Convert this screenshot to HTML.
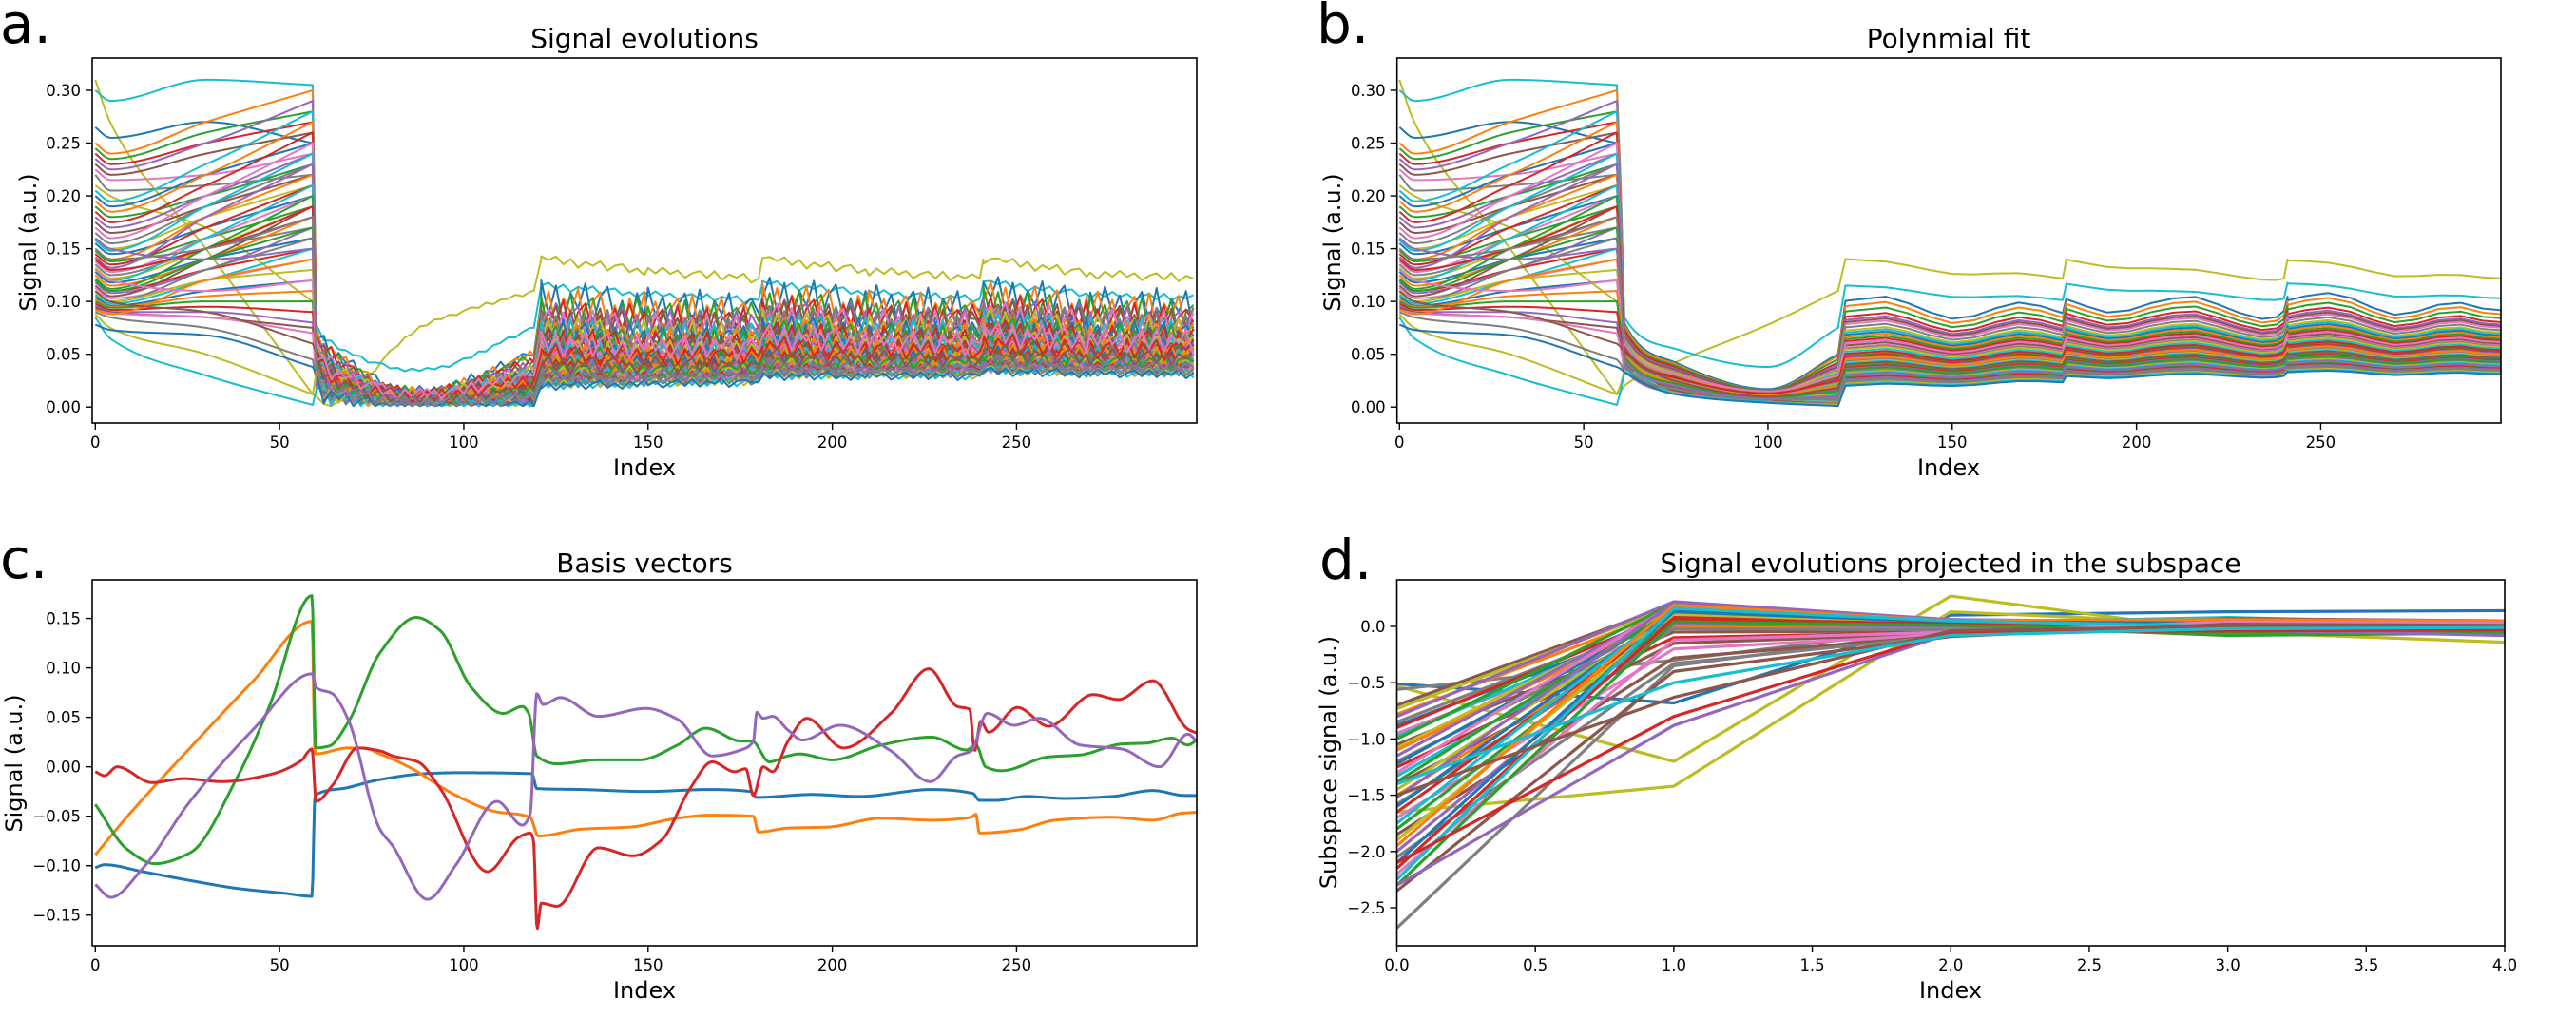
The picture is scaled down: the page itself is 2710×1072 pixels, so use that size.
<!DOCTYPE html>
<html><head><meta charset="utf-8"><style>
html,body{margin:0;padding:0;background:#fff;}
svg{display:block;font-family:"DejaVu Sans","Liberation Sans",sans-serif;}
</style></head><body>
<svg id="fig" width="2710" height="1072" viewBox="0 0 2710 1072" xmlns="http://www.w3.org/2000/svg">
<rect width="2710" height="1072" fill="#fff"/>
<text x="0" y="45" font-size="58">a.</text>
<text x="1385" y="45" font-size="58">b.</text>
<text x="0" y="608" font-size="58">c.</text>
<text x="1388" y="609" font-size="58">d.</text>
<text x="678" y="50" font-size="28" text-anchor="middle">Signal evolutions</text>
<text x="2050" y="50" font-size="28" text-anchor="middle">Polynmial fit</text>
<text x="678" y="602" font-size="28" text-anchor="middle">Basis vectors</text>
<text x="2052" y="602" font-size="28" text-anchor="middle">Signal evolutions projected in the subspace</text>
<text x="678" y="500" font-size="24" text-anchor="middle">Index</text>
<text x="2050" y="500" font-size="24" text-anchor="middle">Index</text>
<text x="678" y="1050" font-size="24" text-anchor="middle">Index</text>
<text x="2052" y="1050" font-size="24" text-anchor="middle">Index</text>
<text transform="translate(38,255) rotate(-90)" font-size="24" text-anchor="middle">Signal (a.u.)</text>
<text transform="translate(1410,255) rotate(-90)" font-size="24" text-anchor="middle">Signal (a.u.)</text>
<text transform="translate(23,803) rotate(-90)" font-size="24" text-anchor="middle">Signal (a.u.)</text>
<text transform="translate(1406,802) rotate(-90)" font-size="24" text-anchor="middle">Subspace signal (a.u.)</text>
</svg>
<script>
const tab=['#1f77b4','#ff7f0e','#2ca02c','#d62728','#9467bd','#8c564b','#e377c2','#7f7f7f','#bcbd22','#17becf'];
// ---- panel a/b data (per-curve keypoint values) ----
const start=[0.31,0.30,0.265,0.25,0.245,0.24,0.235,0.23,0.225,0.22,0.21,0.205,0.20,0.195,0.19,0.185,0.18,0.175,0.17,0.165,0.16,0.158,0.155,0.15,0.148,0.145,0.142,0.14,0.138,0.135,0.132,0.13,0.128,0.125,0.122,0.12,0.118,0.115,0.113,0.11,0.108,0.106,0.104,0.102,0.10,0.098,0.096,0.094,0.092,0.09,0.088,0.085,0.078,0.092,0.12,0.14,0.16,0.11,0.13,0.15];
const dip=[0.27,0.29,0.255,0.24,0.235,0.23,0.225,0.22,0.215,0.205,0.20,0.195,0.19,0.185,0.18,0.175,0.17,0.165,0.16,0.155,0.15,0.148,0.145,0.14,0.138,0.135,0.132,0.13,0.128,0.125,0.122,0.12,0.118,0.115,0.112,0.11,0.108,0.105,0.103,0.10,0.10,0.098,0.096,0.095,0.094,0.092,0.09,0.09,0.089,0.085,0.075,0.065,0.073,0.088,0.11,0.13,0.15,0.10,0.12,0.14];
const mid=[0.15,0.31,0.27,0.27,0.26,0.25,0.25,0.24,0.22,0.21,0.17,0.23,0.22,0.22,0.20,0.21,0.20,0.19,0.20,0.19,0.18,0.19,0.17,0.18,0.16,0.17,0.18,0.15,0.16,0.15,0.15,0.16,0.14,0.14,0.15,0.13,0.13,0.14,0.12,0.13,0.12,0.12,0.11,0.105,0.10,0.095,0.09,0.085,0.085,0.075,0.05,0.03,0.068,0.12,0.14,0.15,0.14,0.09,0.11,0.15];
const end59=[0.012,0.305,0.25,0.30,0.28,0.27,0.29,0.26,0.24,0.22,0.10,0.28,0.25,0.27,0.23,0.26,0.24,0.22,0.25,0.23,0.21,0.24,0.20,0.22,0.19,0.21,0.23,0.18,0.20,0.17,0.19,0.21,0.16,0.18,0.20,0.15,0.17,0.19,0.14,0.16,0.13,0.15,0.12,0.11,0.10,0.09,0.08,0.075,0.07,0.045,0.012,0.002,0.038,0.14,0.17,0.19,0.15,0.06,0.12,0.18];
const s2a=[0.0,0.065,0.06,0.058,0.055,0.053,0.05,0.048,0.046,0.045,0.043,0.042,0.04,0.039,0.038,0.037,0.036,0.035,0.034,0.033,0.032,0.031,0.03,0.029,0.028,0.027,0.026,0.025,0.025,0.024,0.024,0.023,0.023,0.022,0.022,0.021,0.021,0.02,0.02,0.019,0.019,0.018,0.018,0.017,0.017,0.016,0.016,0.015,0.015,0.014,0.014,0.013,0.013,0.03,0.028,0.035,0.025,0.032,0.04,0.02];
const mid2=[0.075,0.035,0.014,0.013,0.013,0.012,0.012,0.012,0.011,0.011,0.011,0.010,0.010,0.010,0.009,0.009,0.009,0.009,0.008,0.008,0.008,0.008,0.007,0.007,0.007,0.007,0.006,0.006,0.006,0.006,0.006,0.005,0.005,0.005,0.005,0.005,0.004,0.004,0.004,0.004,0.004,0.003,0.003,0.003,0.003,0.003,0.002,0.002,0.002,0.002,0.002,0.002,0.001,0.008,0.006,0.01,0.005,0.007,0.012,0.004];
const s2e=[0.11,0.075,0.05,0.048,0.045,0.042,0.04,0.038,0.036,0.035,0.034,0.032,0.03,0.029,0.028,0.027,0.026,0.025,0.024,0.023,0.022,0.021,0.02,0.019,0.018,0.017,0.016,0.015,0.014,0.013,0.012,0.011,0.01,0.009,0.008,0.008,0.007,0.007,0.006,0.006,0.005,0.005,0.004,0.004,0.003,0.003,0.003,0.002,0.002,0.002,0.002,0.001,0.001,0.02,0.015,0.025,0.01,0.018,0.03,0.008];
const lvl=[0.14,0.115,0.10,0.095,0.09,0.085,0.082,0.08,0.078,0.075,0.072,0.07,0.068,0.066,0.064,0.062,0.06,0.058,0.056,0.055,0.054,0.052,0.05,0.049,0.048,0.047,0.046,0.045,0.044,0.043,0.042,0.041,0.04,0.039,0.038,0.037,0.036,0.035,0.034,0.033,0.032,0.031,0.03,0.029,0.028,0.027,0.026,0.025,0.024,0.023,0.022,0.021,0.02,0.045,0.035,0.05,0.03,0.04,0.06,0.025];
const profIdx=[121,150,179,180,181,210,239,240,241,270,299];
const profMul=[1.0,0.92,0.87,0.87,1.0,0.92,0.87,0.87,1.0,0.9,0.87];
const profAdd=[0,0.004,0.007,0.007,0.011,0.013,0.014,0.014,0.016,0.016,0.016];
const ripple=[0,1,-0.6,0.8,-1,0.5,-0.2,1,-0.9,0.4,0.9,-0.7,0.3,-1,0.7,-0.4,1,-0.3,0.6,-0.9,0.2,0.8,-0.6,1,-0.8,0.5,-0.1,0.9,-1,0.3,0.7];
const waveB=[0,0.3,0.6,0.2,-0.4,-0.8,-0.5,0.2,0.7,0.5,0,-0.5,-0.9,-0.6,0.1,0.6,0.8,0.3,-0.3,-0.7,-0.4,0.2,0.6,0.4,-0.2,-0.6,-0.3,0.3,0.5,0.1,0];
// ---- panel c data: basis vectors [index, value] ----
const basisBlue=[[0,-0.102],[2.5,-0.099],[12.8,-0.106],[25.7,-0.115],[38.6,-0.123],[51.5,-0.128],[58.8,-0.131],[59.6,-0.029],[68.6,-0.021],[77.2,-0.013],[89.3,-0.007],[97.9,-0.006],[118.5,-0.007],[119.8,-0.022],[132.2,-0.023],[149.4,-0.025],[166.6,-0.023],[177.8,-0.025],[179.5,-0.031],[194.4,-0.028],[207.3,-0.030],[227,-0.023],[238.2,-0.027],[239.9,-0.034],[244.2,-0.034],[252.7,-0.030],[263,-0.032],[275.9,-0.030],[287,-0.024],[295.6,-0.029],[298.9,-0.029]];
const basisOrange=[[0,-0.089],[8.5,-0.051],[25.7,0.019],[42.9,0.087],[58.8,0.147],[59.6,0.013],[68.6,0.019],[72.9,0.019],[77.2,0.013],[85,0],[97.9,-0.029],[108.2,-0.045],[118,-0.051],[120.2,-0.070],[132.2,-0.063],[145.1,-0.061],[158,-0.052],[166.6,-0.049],[178.6,-0.050],[179.9,-0.066],[188,-0.062],[198.7,-0.061],[213.3,-0.052],[227,-0.054],[237.7,-0.051],[239,-0.048],[239.9,-0.067],[250.2,-0.064],[260.5,-0.054],[275.9,-0.051],[287,-0.054],[294.8,-0.047],[298.9,-0.046]];
const basisGreen=[[0,-0.038],[8.5,-0.083],[16.2,-0.098],[25.7,-0.087],[38.6,-0.010],[47.2,0.061],[58.8,0.173],[59.8,0.019],[63.5,0.021],[68.6,0.045],[77.2,0.115],[87.1,0.151],[93.5,0.138],[102.1,0.080],[110.7,0.054],[115.9,0.061],[117.6,0.054],[119.8,0.011],[125.3,0.003],[136.5,0.007],[147.7,0.007],[158,0.022],[165.7,0.039],[175.2,0.026],[178.2,0.026],[182.9,0.005],[188,0.011],[191,0.013],[200,0.007],[213.3,0.022],[227,0.030],[236.4,0.017],[239,0.022],[241.6,0.000],[245.9,-0.004],[258.7,0.010],[267.3,0.012],[278.5,0.023],[285.3,0.024],[292.2,0.029],[296.5,0.022],[298.9,0.027]];
const basisRed=[[0,-0.005],[2.5,-0.009],[5.9,0.000],[15.4,-0.016],[24,-0.012],[34.3,-0.015],[47.2,-0.008],[55.8,0.006],[58.8,0.018],[59.9,-0.035],[64.3,-0.019],[71.2,0.019],[77.3,0.016],[80.7,0.011],[87.5,0.005],[93.6,-0.022],[106.4,-0.106],[115,-0.071],[118,-0.067],[118.9,-0.074],[119.9,-0.164],[121,-0.138],[125.3,-0.141],[136.5,-0.082],[145.9,-0.090],[153.7,-0.074],[161.4,-0.022],[167.4,0.005],[173.5,-0.005],[176.5,-0.002],[178.6,-0.029],[181.2,0.000],[183.8,-0.005],[188,0.026],[193.1,0.049],[203,0.019],[215.9,0.054],[226.2,0.099],[233.9,0.061],[237.3,0.058],[238.2,0.026],[238.6,0.016],[240.3,0.046],[242.4,0.035],[250.2,0.060],[258.7,0.041],[270.8,0.073],[277.6,0.068],[287,0.087],[296.5,0.038],[298.9,0.034]];
const basisPurple=[[0,-0.119],[4.2,-0.132],[12.8,-0.103],[25.7,-0.035],[42.9,0.038],[58.8,0.094],[60,0.080],[64.3,0.074],[68.6,0.048],[77.2,-0.063],[80.7,-0.080],[90.1,-0.134],[97.9,-0.099],[109,-0.035],[115.9,-0.059],[118,-0.048],[119.8,0.074],[121.5,0.063],[126.2,0.070],[136.5,0.051],[149.4,0.059],[158,0.048],[167.4,0.011],[175.2,0.017],[178.6,0.026],[179.5,0.055],[181.2,0.049],[183.8,0.051],[188,0.037],[191.9,0.027],[202.1,0.042],[215.9,0.016],[226.6,-0.015],[233.9,0.011],[237.7,0.016],[242,0.054],[249.3,0.042],[256.2,0.049],[267.3,0.022],[278.5,0.018],[288.8,0.000],[296.5,0.033],[298.9,0.026]];
// ---- panel d data: projected signals at components 0..4 ----
const d0=[-0.51,-0.53,-1.65,-2.68,-0.56,-0.7,-0.73,-0.78,-0.8,-0.85,-0.88,-0.9,-0.95,-0.98,-1.0,-1.05,-1.08,-1.1,-1.15,-1.2,-1.22,-1.25,-1.3,-1.33,-1.38,-1.4,-1.45,-1.5,-1.52,-1.58,-1.6,-1.65,-1.7,-1.75,-1.8,-1.85,-1.9,-1.95,-2.0,-2.05,-2.1,-2.15,-2.2,-2.25,-2.3,-2.35,-2.3,-2.1,-1.5,-1.4];
const d1=[-0.68,-1.2,-1.42,-0.35,-0.3,0.2,0.18,0.15,0.22,0.1,0.05,0.12,0.0,0.08,0.2,-0.05,0.15,0.1,0.18,0.03,0.12,-0.1,0.2,0.05,0.15,-0.15,0.1,0.0,0.21,-0.02,0.14,0.08,-0.2,0.17,0.06,-0.28,0.11,0.19,0.02,-0.33,0.13,0.07,-0.12,0.16,0.04,-0.4,-0.88,-0.8,-0.63,-0.5];
const d2=[0.1,0.27,0.13,-0.03,0.0,0.05,0.04,0.03,0.06,0.02,0.0,0.04,-0.02,0.03,0.05,-0.04,0.04,0.02,0.05,0.0,0.03,-0.05,0.06,0.01,0.04,-0.06,0.03,-0.01,0.06,-0.03,0.04,0.02,-0.07,0.05,0.01,-0.08,0.03,0.05,0.0,-0.08,0.04,0.02,-0.05,0.05,0.01,-0.09,-0.06,-0.05,-0.04,-0.08];
const d3=[0.13,-0.05,0.02,-0.02,0.02,0.03,0.02,0.05,0.01,-0.03,0.06,0.0,-0.05,0.08,0.02,0.04,-0.02,0.03,0.01,-0.04,0.05,0.0,0.02,-0.06,0.03,0.07,-0.01,0.02,0.04,-0.03,0.01,0.05,-0.02,0.03,-0.08,0.0,0.02,0.06,-0.04,0.01,0.03,-0.02,0.04,0.0,-0.05,0.02,-0.03,-0.04,0.0,-0.02];
const d4=[0.14,-0.14,0.0,-0.02,0.02,0.03,0.02,0.0,0.04,-0.02,0.05,0.01,-0.03,0.02,0.0,0.03,-0.08,0.01,0.02,-0.02,0.04,0.0,0.01,-0.04,0.03,0.05,0.0,0.02,0.03,-0.02,0.01,0.04,-0.01,0.02,-0.06,0.0,0.01,0.05,-0.03,0.02,0.01,-0.02,0.03,0.0,-0.04,0.01,-0.08,-0.03,0.0,-0.01];
const dColor=[0,8,8,7,7];
const dColorEnd=[4,3,5,9];
const ticksAB=[0,0.05,0.10,0.15,0.20,0.25,0.30];
const ticksC=[-0.15,-0.10,-0.05,0,0.05,0.10,0.15];
const ticksD=[-2.5,-2.0,-1.5,-1.0,-0.5,0.0];
const xticksIdx=[0,50,100,150,200,250];
const xticksD=[0,0.5,1,1.5,2,2.5,3,3.5,4];

const NS='http://www.w3.org/2000/svg';
const svg=document.getElementById('fig');
function el(tag,attrs,parent){const e=document.createElementNS(NS,tag);for(const k in attrs)e.setAttribute(k,attrs[k]);(parent||svg).appendChild(e);return e;}
function fmt(v,d){const s=Math.abs(v).toFixed(d);return (v<-1e-9?'\u2212':'')+s;}
function mono(keys){
  const n=keys.length,xs=keys.map(k=>k[0]),ys=keys.map(k=>k[1]);
  const dk=[],m=new Array(n).fill(0);
  for(let i=0;i<n-1;i++)dk.push((ys[i+1]-ys[i])/(xs[i+1]-xs[i]));
  m[0]=dk[0];m[n-1]=dk[n-2];
  for(let i=1;i<n-1;i++){if(dk[i-1]*dk[i]<=0)m[i]=0;else{const h0=xs[i]-xs[i-1],h1=xs[i+1]-xs[i];m[i]=3*(h0+h1)/((2*h1+h0)/dk[i-1]+(h1+2*h0)/dk[i]);}}
  return function(x){
    if(x<=xs[0])return ys[0];if(x>=xs[n-1])return ys[n-1];
    let i=0;while(x>xs[i+1])i++;
    const h=xs[i+1]-xs[i],t=(x-xs[i])/h,t2=t*t,t3=t2*t;
    return (2*t3-3*t2+1)*ys[i]+(t3-2*t2+t)*h*m[i]+(-2*t3+3*t2)*ys[i+1]+(t3-t2)*h*m[i+1];
  };
}
function makeAxes(cfg){
  const g=el('g',{});
  
  
  const sx=v=>cfg.l+(v-cfg.xmin)/(cfg.xmax-cfg.xmin)*(cfg.r-cfg.l);
  const sy=v=>cfg.b-(v-cfg.ymin)/(cfg.ymax-cfg.ymin)*(cfg.b-cfg.t);
  const cp=el('clipPath',{id:'clip-'+cfg.name},g);
  el('rect',{x:cfg.l,y:cfg.t,width:cfg.r-cfg.l,height:cfg.b-cfg.t},cp);
  const plot=el('g',{'clip-path':'url(#clip-'+cfg.name+')'},g);
  
  
  const frame=el('rect',{x:cfg.l,y:cfg.t,width:cfg.r-cfg.l,height:cfg.b-cfg.t,fill:'none',stroke:'#000','stroke-width':1.6},g);
  
  
  cfg.yt.forEach(v=>{
    const y=sy(v);
    el('line',{x1:cfg.l-7,x2:cfg.l,y1:y,y2:y,stroke:'#000','stroke-width':1.4},g);
    const t=el('text',{x:cfg.l-12,y:y+6,'font-size':16.5,'text-anchor':'end'},g);
    
    
    t.textContent=fmt(v,cfg.yd);
  });
  cfg.xt.forEach(v=>{
    const x=sx(v);
    el('line',{x1:x,x2:x,y1:cfg.b,y2:cfg.b+7,stroke:'#000','stroke-width':1.4},g);
    const t=el('text',{x:x,y:cfg.b+26,'font-size':16.5,'text-anchor':'middle'},g);
    
    
    t.textContent=fmt(v,cfg.xd);
  });
  return {plot,sx,sy};
}
function drawLine(ax,pts,color,w,name){
  const d=pts.map((p,i)=>(i?'L':'M')+ax.sx(p[0]).toFixed(2)+' '+ax.sy(p[1]).toFixed(2)).join('');
  const p=el('path',{d:d,fill:'none',stroke:color,'stroke-width':w,'stroke-linejoin':'round'},ax.plot);
  
  
}
const A=makeAxes({name:'panel-a-signal-evolutions',l:97,r:1259,t:61,b:445,xmin:-0.85,xmax:298.9,ymin:-0.0151,ymax:0.3306,yt:ticksAB,yd:2,xt:xticksIdx,xd:0});
const B=makeAxes({name:'panel-b-polynomial-fit',l:1469.7,r:2631,t:61,b:445,xmin:-0.67,xmax:298.9,ymin:-0.0151,ymax:0.3306,yt:ticksAB,yd:2,xt:xticksIdx,xd:0});
const C=makeAxes({name:'panel-c-basis-vectors',l:97,r:1259,t:610,b:995,xmin:-0.85,xmax:298.9,ymin:-0.181,ymax:0.189,yt:ticksC,yd:2,xt:xticksIdx,xd:0});
const D=makeAxes({name:'panel-d-subspace-projection',l:1469.5,r:2635,t:610,b:995,xmin:0,xmax:4,ymin:-2.838,ymax:0.414,yt:ticksD,yd:1,xt:xticksD,xd:1});

// panels a and b
for(let i=0;i<start.length;i++){
  const col=tab[(i+8)%10];
  const f1=mono([[0,start[i]],[4,dip[i]],[30,mid[i]],[59,end59[i]]]);
  const seg1=[];for(let x=0;x<=59;x+=1)seg1.push([x,f1(x)]);
  const base3=[[120,s2e[i]]];
  const shrink=1-lvl[i]/0.14;
  profIdx.forEach((x,k)=>base3.push([x,lvl[i]*profMul[k]+profAdd[k]*shrink]));
  // panel a: noisy
  const ptsA=seg1.slice();
  const f2a=mono([[60,s2a[i]+0.01],[62,s2a[i]],[88,mid2[i]],[119,s2e[i]]]);
  let r=i%7;
  for(let x=60;x<=119;x+=2){ptsA.push([x,Math.max(0.001,f2a(x)+0.006*(x<66?1.6:1)*ripple[(r++)%ripple.length]*(i<2?0.3:1))]);}
  ptsA.push([119,s2e[i]]);
  for(let k=0;k<base3.length-1;k++){
    const x0=base3[k][0],x1=base3[k+1][0],v0=base3[k][1],v1=base3[k+1][1];
    if(x1-x0<=1){ptsA.push([x1,v1]);continue;}
    for(let x=x0;x<x1;x+=2){const v=v0+(v1-v0)*(x-x0)/(x1-x0);ptsA.push([x,v+0.2*lvl[i]*(i<2?0.15:1)*ripple[(r++)%ripple.length]]);}
  }
  drawLine(A,ptsA,col,2,'signal-curve-a');
  // panel b: smooth
  const ptsB=seg1.slice();
  const f2b=mono([[59.5,end59[i]],[61,s2a[i]+0.02],[75,(s2a[i]+mid2[i])/2+0.005],[100,mid2[i]+0.003],[119,s2e[i]]]);
  for(let x=60;x<=119;x+=1)ptsB.push([x,f2b(x)]);
  for(let k=0;k<base3.length-1;k++){
    const x0=base3[k][0],x1=base3[k+1][0],v0=base3[k][1],v1=base3[k+1][1];
    if(x1-x0<=1){ptsB.push([x1,v1]);continue;}
    for(let x=x0;x<x1;x+=1){const v=v0+(v1-v0)*(x-x0)/(x1-x0);const w=(x-120)/6;const wi=Math.floor(w),wf=w-wi;const wv=waveB[wi%waveB.length]*(1-wf)+waveB[(wi+1)%waveB.length]*wf;ptsB.push([x,v+0.12*lvl[i]*(i<2?0.2:1)*wv]);}
  }
  ptsB.push([299,base3[base3.length-1][1]]);
  drawLine(B,ptsB,col,2,'fitted-curve-b');
}
// panel c
[[basisBlue,0,'basis-vector-1'],[basisOrange,1,'basis-vector-2'],[basisGreen,2,'basis-vector-3'],[basisRed,3,'basis-vector-4'],[basisPurple,4,'basis-vector-5']].forEach(([keys,c,name])=>{
  const f=mono(keys);const pts=[];
  for(let x=0;x<=299;x+=0.25)pts.push([x,f(x)]);
  drawLine(C,pts,tab[c],3,name);
});
// panel d
for(let i=0;i<d0.length;i++){
  let c;
  if(i<dColor.length)c=dColor[i];
  else if(i>=d0.length-dColorEnd.length)c=dColorEnd[i-(d0.length-dColorEnd.length)];
  else c=(i*3)%10;
  const pts=[[0,d0[i]],[1,d1[i]],[2,d2[i]],[3,d3[i]],[4,d4[i]]];
  drawLine(D,pts,tab[c],3.2,'projection-line');
}
</script>
</body></html>
